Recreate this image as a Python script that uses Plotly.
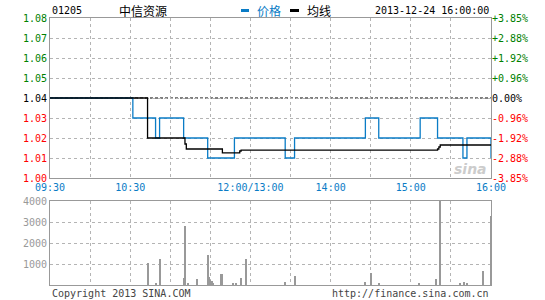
import plotly.graph_objects as go

# ---------------- data ----------------
# minute index since 09:30 (lunch 12:00-13:00 removed), 0..330
price_minutes = [0, 62, 79, 82, 100, 118, 138, 176, 183, 236, 246, 277, 290, 309, 312, 330]
price_values  = [1.04, 1.03, 1.02, 1.03, 1.02, 1.01, 1.02, 1.01, 1.02, 1.03, 1.02, 1.03, 1.02, 1.01, 1.02, 1.01]

avg_minutes = [0, 73, 101, 102, 129, 142, 143, 290, 291, 292, 330]
avg_values  = [1.04, 1.02, 1.017, 1.0145, 1.0126, 1.0135, 1.0139, 1.0145, 1.0155, 1.0165, 1.0163]

vol_minutes = [73, 79, 82, 100, 101, 103, 110, 118, 119, 120, 121, 122, 128, 129, 137, 139, 143, 147,
               176, 183, 236, 240, 246, 276, 289, 292, 307, 310, 312, 324, 330]
vol_values  = [1040, 110, 1240, 330, 2810, 50, 290, 1430, 400, 240, 190, 110, 520, 520, 50, 50, 330, 1240,
               140, 430, 140, 570, 50, 95, 290, 8000, 50, 140, 50, 670, 3290]

preclose = 1.04
price_ticks = [1.00, 1.01, 1.02, 1.03, 1.04, 1.05, 1.06, 1.07, 1.08]
time_tickvals = list(range(0, 331, 30))
time_labels = {0: "09:30", 60: "10:30", 150: "12:00/13:00", 210: "14:00", 270: "15:00", 330: "16:00"}
vol_ticks = [1000, 2000, 3000, 4000]

stock_code = "01205"
stock_name = "中信资源"
timestamp = "2013-12-24 16:00:00"

# ---------------- styles ----------------
BLUE = "#0a7cc6"
GREEN = "#008000"
RED = "#ff0000"
GRID = "#b4b4b4"
BORDER = "#999999"
MONO = "DejaVu Sans Mono"
CJK = "Noto Sans CJK SC"
W, H = 545, 300
xdom = [50 / W, 491 / W]
price_dom = [(H - 178) / H, (H - 18) / H]
vol_dom = [(H - 285) / H, (H - 201) / H]


def col_for(p):
    if abs(p - preclose) < 1e-9:
        return "#000000"
    return GREEN if p > preclose else RED


left_text = ['<span style="color:%s">%.2f</span>' % (col_for(p), p) for p in price_ticks]
right_text = []
for p in price_ticks:
    pct = (p - preclose) / preclose * 100
    s = "%+.2f%%" % pct if abs(pct) > 1e-9 else "0.00%"
    right_text.append('<span style="color:%s">%s</span>' % (col_for(p), s))

fig = go.Figure()

fig.add_trace(go.Scatter(x=price_minutes, y=price_values, mode="lines", line_shape="hv",
                         line=dict(color=BLUE, width=1.3), xaxis="x", yaxis="y", hoverinfo="skip"))
fig.add_trace(go.Scatter(x=avg_minutes, y=avg_values, mode="lines", line_shape="hv",
                         line=dict(color="#000000", width=1.3), xaxis="x", yaxis="y", hoverinfo="skip"))
fig.add_trace(go.Scatter(x=[None], y=[None], xaxis="x", yaxis="y2", hoverinfo="skip"))
fig.add_trace(go.Bar(x=vol_minutes, y=vol_values, width=0.8, marker=dict(color="#999999", line=dict(width=0)),
                     xaxis="x2", yaxis="y3", hoverinfo="skip"))

fig.add_shape(type="line", xref="x", yref="y", x0=0, x1=330, y0=preclose, y1=preclose,
              line=dict(color="#000000", width=1, dash="3px,2px"), layer="below")

axis_common = dict(showline=True, linecolor=BORDER, linewidth=1, mirror=True, ticks="", zeroline=False,
                   showgrid=True, gridcolor=GRID, griddash="dot", gridwidth=1, fixedrange=True,
                   automargin=False)

fig.update_layout(
    template="none",
    width=W, height=H, margin=dict(l=0, r=0, t=0, b=0, pad=0), autosize=False,
    paper_bgcolor="white", plot_bgcolor="white", showlegend=False, bargap=0,
    xaxis=dict(domain=xdom, range=[0, 330], anchor="y", tickvals=time_tickvals,
               ticktext=[time_labels.get(v, "") for v in time_tickvals],
               tickfont=dict(family=MONO, size=10, color=BLUE), **axis_common),
    yaxis=dict(domain=price_dom, range=[1.0, 1.08], anchor="x", tickvals=price_ticks, ticktext=left_text,
               tickfont=dict(family=MONO, size=10), **axis_common),
    yaxis2=dict(overlaying="y", side="right", anchor="x", range=[1.0, 1.08], tickvals=price_ticks,
                ticktext=right_text, tickfont=dict(family=MONO, size=10), showgrid=False, zeroline=False,
                showline=False, ticks="", fixedrange=True, automargin=False),
    xaxis2=dict(domain=xdom, range=[0, 330], anchor="y3", tickvals=time_tickvals, showticklabels=False,
                **axis_common),
    yaxis3=dict(domain=vol_dom, range=[0, 4000], anchor="x2", tickvals=vol_ticks,
                ticktext=[str(v) for v in vol_ticks],
                tickfont=dict(family=MONO, size=10, color="#999999"), **axis_common),
)

# header / legend / footer
ann = [
    dict(x=50 / W, y=(H - 11) / H, text=stock_code, xanchor="left", font=dict(family=MONO, size=10, color="#000")),
    dict(x=143 / W, y=(H - 11) / H, text=stock_name, xanchor="center", font=dict(family=CJK, size=12, color="#000")),
    dict(x=255 / W, y=(H - 11) / H, text="价格", xanchor="left", font=dict(family=CJK, size=12, color=BLUE)),
    dict(x=305 / W, y=(H - 11) / H, text="均线", xanchor="left", font=dict(family=CJK, size=12, color="#000")),
    dict(x=491 / W, y=(H - 11) / H, text=timestamp, xanchor="right", font=dict(family=MONO, size=10, color="#000")),
    dict(x=50 / W, y=(H - 293) / H, text="Copyright 2013 SINA.COM", xanchor="left",
         font=dict(family=MONO, size=10, color="#444")),
    dict(x=491 / W, y=(H - 293) / H, text="http://finance.sina.com.cn", xanchor="right",
         font=dict(family=MONO, size=10, color="#444")),
    dict(x=489 / W, y=(H - 169) / H, text="<i><b>sina</b></i>", xanchor="right",
         font=dict(family="DejaVu Sans", size=14, color="rgba(190,190,190,0.8)")),
]
for a in ann:
    a.update(xref="paper", yref="paper", showarrow=False, yanchor="middle")
fig.update_layout(annotations=ann)

fig.add_shape(type="rect", xref="paper", yref="paper", x0=241 / W, x1=249 / W, y0=(H - 12) / H, y1=(H - 9) / H,
              fillcolor=BLUE, line=dict(width=0))
fig.add_shape(type="rect", xref="paper", yref="paper", x0=290 / W, x1=299 / W, y0=(H - 12) / H, y1=(H - 9) / H,
              fillcolor="#000", line=dict(width=0))

fig.write_html("out.html")
